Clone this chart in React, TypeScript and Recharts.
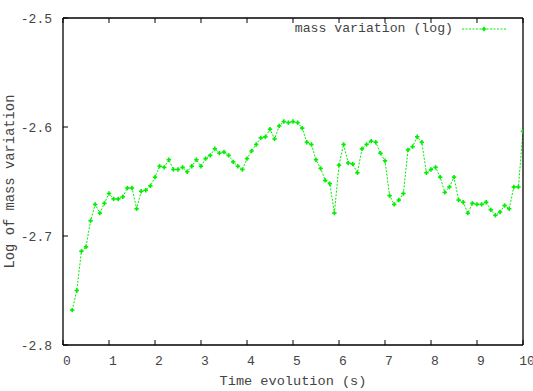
import React from 'react';
import { LineChart, Line, XAxis, YAxis, Legend } from 'recharts';

const times = [
  0.2, 0.3, 0.4, 0.5, 0.6, 0.7, 0.8, 0.9, 1.0,
  1.1, 1.2, 1.3, 1.4, 1.5, 1.6, 1.7, 1.8, 1.9, 2.0,
  2.1, 2.2, 2.3, 2.4, 2.5, 2.6, 2.7, 2.8, 2.9, 3.0,
  3.1, 3.2, 3.3, 3.4, 3.5, 3.6, 3.7, 3.8, 3.9, 4.0,
  4.1, 4.2, 4.3, 4.4, 4.5, 4.6, 4.7, 4.8, 4.9, 5.0,
  5.1, 5.2, 5.3, 5.4, 5.5, 5.6, 5.7, 5.8, 5.9, 6.0,
  6.1, 6.2, 6.3, 6.4, 6.5, 6.6, 6.7, 6.8, 6.9, 7.0,
  7.1, 7.2, 7.3, 7.4, 7.5, 7.6, 7.7, 7.8, 7.9, 8.0,
  8.1, 8.2, 8.3, 8.4, 8.5, 8.6, 8.7, 8.8, 8.9, 9.0,
  9.1, 9.2, 9.3, 9.4, 9.5, 9.6, 9.7, 9.8, 9.9, 10.0,
];

const massVariationLog = [
  -2.768, -2.750, -2.714, -2.710, -2.686, -2.671, -2.679, -2.670, -2.661,
  -2.666, -2.666, -2.664, -2.656, -2.656, -2.675, -2.659, -2.658, -2.654, -2.646,
  -2.636, -2.637, -2.630, -2.639, -2.639, -2.637, -2.641, -2.636, -2.630, -2.636,
  -2.629, -2.626, -2.620, -2.624, -2.623, -2.626, -2.632, -2.636, -2.639, -2.629,
  -2.622, -2.616, -2.610, -2.609, -2.602, -2.611, -2.599, -2.595, -2.596, -2.595,
  -2.596, -2.601, -2.614, -2.616, -2.630, -2.638, -2.649, -2.652, -2.679, -2.635,
  -2.616, -2.633, -2.634, -2.642, -2.620, -2.616, -2.613, -2.614, -2.624, -2.631,
  -2.663, -2.671, -2.667, -2.661, -2.621, -2.618, -2.609, -2.614, -2.642, -2.639,
  -2.637, -2.646, -2.660, -2.655, -2.646, -2.667, -2.669, -2.679, -2.670, -2.671,
  -2.671, -2.669, -2.676, -2.681, -2.678, -2.672, -2.675, -2.655, -2.655, -2.604,
];

const xTicks = [0, 1, 2, 3, 4, 5, 6, 7, 8, 9, 10];
const yTicks = [-2.8, -2.7, -2.6, -2.5];

const seriesName = 'mass variation (log)';
const xTitle = 'Time evolution (s)';
const yTitle = 'Log of mass variation';

const data = times.map((t, i) => ({ t, v: massVariationLog[i] }));

const FONT = '"Liberation Mono", "DejaVu Sans Mono", monospace';
const TEXT_COLOR = '#444';
const GREEN = '#00ee00';

const PlusDot = (props: any) => {
  const { cx, cy } = props;
  if (cx == null || cy == null) return null;
  return (
    <g>
      <line x1={cx - 2.2} y1={cy} x2={cx + 2.2} y2={cy} stroke={GREEN} strokeWidth={1.6} />
      <line x1={cx} y1={cy - 2.2} x2={cx} y2={cy + 2.2} stroke={GREEN} strokeWidth={1.6} />
    </g>
  );
};

const LegendContent = () => (
  <div style={{ display: 'flex', alignItems: 'center', fontFamily: FONT, fontSize: 13.2, color: TEXT_COLOR, whiteSpace: 'nowrap' }}>
    <span>{seriesName}</span>
    <svg width={47} height={10} style={{ marginLeft: 8 }}>
      <line x1={1} y1={5} x2={46} y2={5} stroke={GREEN} strokeWidth={1} strokeDasharray="2 1.5" />
      <PlusDot cx={23} cy={5} />
    </svg>
  </div>
);

const YTitle = (props: any) => {
  const vb = props.viewBox || {};
  const cx = (vb.x ?? 0) + 10;
  const cy = (vb.y ?? 0) + (vb.height ?? 0) / 2;
  return (
    <text x={cx} y={cy} transform={`rotate(-90 ${cx} ${cy})`} textAnchor="middle" dominantBaseline="central"
      fontFamily={FONT} fontSize={13.8} fill={TEXT_COLOR}>
      {yTitle}
    </text>
  );
};

const XTitle = (props: any) => {
  const vb = props.viewBox || {};
  const cx = (vb.x ?? 0) + (vb.width ?? 0) / 2;
  const cy = (vb.y ?? 0) + 36;
  return (
    <text x={cx} y={cy} textAnchor="middle" dominantBaseline="central" fontFamily={FONT} fontSize={13.6} fill={TEXT_COLOR}>
      {xTitle}
    </text>
  );
};

const xTickStyle = { fontFamily: FONT, fontSize: 13, fill: TEXT_COLOR, dx: 4 };
const yTickStyle = { fontFamily: FONT, fontSize: 13, fill: TEXT_COLOR };
const axisStroke = { stroke: '#000', strokeWidth: 1.3 };

export default function App() {
  return (
    <div style={{ position: 'absolute', left: 0, top: 0, background: '#fff' }}>
      <LineChart width={533} height={391} data={data} margin={{ top: 8, right: 0, bottom: 0, left: 0 }}>
        <XAxis
          xAxisId="bottom"
          dataKey="t"
          type="number"
          domain={[0, 10]}
          ticks={xTicks}
          orientation="bottom"
          height={46}
          tickSize={-5}
          tickMargin={16}
          tick={xTickStyle}
          tickLine={{ stroke: '#000' }}
          axisLine={axisStroke}
          allowDataOverflow
          interval={0}
          label={{ content: (p: any) => <XTitle {...p} /> }}
        />
        <XAxis
          xAxisId="top"
          dataKey="t"
          type="number"
          domain={[0, 10]}
          ticks={xTicks}
          orientation="top"
          height={10}
          tickSize={-5}
          tickFormatter={() => ''}
          tickLine={{ stroke: '#000' }}
          axisLine={axisStroke}
          interval={0}
        />
        <YAxis
          yAxisId="left"
          type="number"
          domain={[-2.8, -2.5]}
          ticks={yTicks}
          width={63}
          tickSize={-5}
          tickMargin={16}
          tick={yTickStyle}
          tickFormatter={(v: number) => v.toFixed(1)}
          tickLine={{ stroke: '#000' }}
          axisLine={axisStroke}
          allowDataOverflow
          interval={0}
          label={{ content: (p: any) => <YTitle {...p} /> }}
        />
        <YAxis
          yAxisId="right"
          orientation="right"
          type="number"
          domain={[-2.8, -2.5]}
          ticks={yTicks}
          width={10}
          tickSize={-5}
          tickFormatter={() => ''}
          tickLine={{ stroke: '#000' }}
          axisLine={axisStroke}
          interval={0}
        />
        <Legend
          layout="vertical"
          align="center"
          verticalAlign="middle"
          wrapperStyle={{ top: 21, right: 25, left: 'auto', width: 'auto' }}
          content={() => <LegendContent />}
        />
        <Line
          xAxisId="bottom"
          yAxisId="left"
          type="linear"
          dataKey="v"
          name={seriesName}
          stroke={GREEN}
          strokeWidth={1}
          strokeDasharray="2 1.5"
          dot={<PlusDot />}
          activeDot={false}
          isAnimationActive={false}
        />
      </LineChart>
    </div>
  );
}
